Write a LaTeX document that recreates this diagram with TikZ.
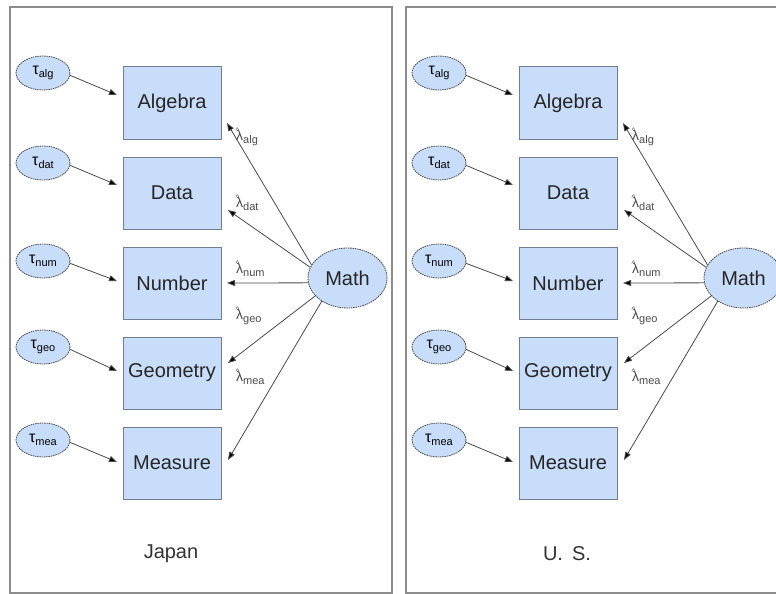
\documentclass[tikz,border=0pt]{standalone}
\usepackage{fontspec}
\setmainfont{Liberation Sans}
\usetikzlibrary{arrows.meta,shapes.geometric}
\definecolor{boxfill}{RGB}{200,221,250}
\definecolor{boxline}{RGB}{115,125,145}
\definecolor{framec}{RGB}{140,140,140}
\definecolor{linec}{RGB}{75,75,75}
\newcommand{\tausub}[1]{{\fontsize{16}{16}\selectfont τ}\raisebox{-3pt}{\fontsize{11}{11}\selectfont #1}}
\newcommand{\lamsub}[1]{\rlap{\raisebox{6.5pt}{\kern-0.5pt\fontsize{8}{8}\selectfont\textasciicircum}}{\fontsize{14}{14}\selectfont λ}\raisebox{-3pt}{\fontsize{11}{11}\selectfont #1}}
\tikzset{
  frame/.style={draw=framec,line width=1.3pt},
  mbox/.style={rectangle,draw=boxline,fill=boxfill,line width=1pt,minimum width=98pt,minimum height=72pt,inner sep=0pt,font=\fontsize{20}{20}\selectfont,text=black!85},
  tauell/.style={ellipse,draw=linec,dash pattern=on 1.5pt off 0.8pt,line width=0.8pt,fill=boxfill,minimum width=54pt,minimum height=34pt,inner sep=0pt},
  mathell/.style={ellipse,draw=linec,dash pattern=on 1.5pt off 0.8pt,line width=0.8pt,fill=boxfill,minimum width=79pt,minimum height=60pt,inner sep=0pt,font=\fontsize{20}{20}\selectfont,text=black!85},
  arr/.style={draw=linec,line width=0.8pt,-{Triangle[length=8pt,width=6pt,fill=black]}},
  lab/.style={anchor=west,inner sep=0pt,text=black!70},
  capt/.style={font=\fontsize{20}{20}\selectfont,text=black!80}
}
\newcommand{\drawpanel}[3]{%
\begin{scope}[xshift=#2pt]
\draw[frame] (10,7) rectangle (392,593);
\node[mbox] (#1alg) at (172,103) {Algebra};
\node[mbox] (#1dat) at (172,193) {Data};
\node[mbox] (#1num) at (172,283) {Number};
\node[mbox] (#1geo) at (172,373) {Geometry};
\node[mbox] (#1mea) at (172,463) {Measure};
\node[tauell] (#1talg) at (43,73) {\tausub{alg}};
\node[tauell] (#1tdat) at (43,163) {\tausub{dat}};
\node[tauell] (#1tnum) at (43,261) {\tausub{num}};
\node[tauell] (#1tgeo) at (43,347) {\tausub{geo}};
\node[tauell] (#1tmea) at (43,440) {\tausub{mea}};
\node[mathell] (#1math) at (347.5,278) {Math};
\coordinate (#1ta) at (117,95);
\coordinate (#1td) at (117,185);
\coordinate (#1tn) at (117,281);
\coordinate (#1tg) at (117,371);
\coordinate (#1tm) at (117,462);
\draw[arr] (#1talg.355) -- (#1ta);
\draw[arr] (#1tdat.355) -- (#1td);
\draw[arr] (#1tnum.355) -- (#1tn);
\draw[arr] (#1tgeo.355) -- (#1tg);
\draw[arr] (#1tmea.355) -- (#1tm);
\coordinate (#1ma) at (227,123);
\coordinate (#1md) at (228,210);
\coordinate (#1mn) at (227,283);
\coordinate (#1mg) at (228,363);
\coordinate (#1mm) at (228,460);
\draw[arr] (#1math.160) -- (#1ma);
\draw[arr] (#1math.164) -- (#1md);
\draw[arr] (#1math.187) -- (#1mn);
\draw[arr] (#1math.209) -- (#1mg);
\draw[arr] (#1math.222) -- (#1mm);
\node[lab] (#1lalg) at (236,137) {\lamsub{alg}};
\node[lab] (#1ldat) at (236,203) {\lamsub{dat}};
\node[lab] (#1lnum) at (236,269) {\lamsub{num}};
\node[lab] (#1lgeo) at (236,316) {\lamsub{geo}};
\node[lab] (#1lmea) at (236,377) {\lamsub{mea}};
\node[capt] (#1cap) at (171,554) {#3};
\end{scope}}
\begin{document}
\begin{tikzpicture}[x=1pt,y=-1pt]
\useasboundingbox (0,0) rectangle (776,594);
\fill[white] (0,0) rectangle (776,594);
\clip (0,0) rectangle (776,594);
\drawpanel{j}{0}{Japan}
\drawpanel{u}{396}{U.\hspace{0.45em}S.}
\end{tikzpicture}
\end{document}
